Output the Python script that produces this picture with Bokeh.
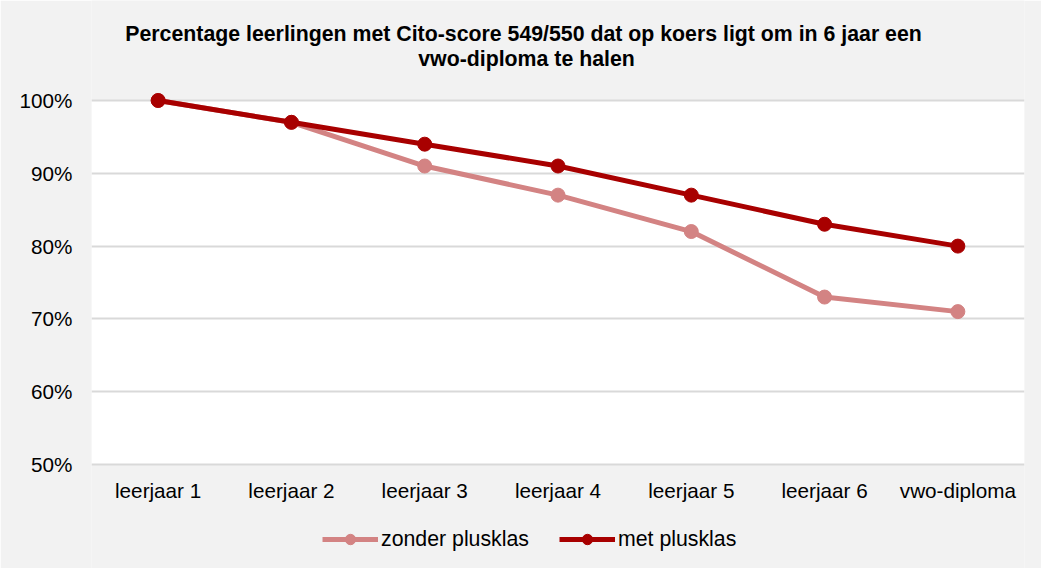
from bokeh.plotting import figure
from bokeh.models import (Label, Legend, LegendItem, BoxAnnotation, Range1d,
                          FactorRange, NumeralTickFormatter, FixedTicker)
from bokeh.core.properties import value
from bokeh.embed import file_html
from bokeh.resources import INLINE

categories = ["leerjaar 1", "leerjaar 2", "leerjaar 3", "leerjaar 4",
              "leerjaar 5", "leerjaar 6", "vwo-diploma"]
zonder_plusklas = [1.00, 0.97, 0.91, 0.87, 0.82, 0.73, 0.71]
met_plusklas = [1.00, 0.97, 0.94, 0.91, 0.87, 0.83, 0.80]
y_ticks = [0.5, 0.6, 0.7, 0.8, 0.9, 1.0]
title_lines = ["Percentage  leerlingen met Cito-score 549/550 dat op koers ligt om in 6 jaar een",
               "vwo-diploma te halen"]

FONT = "Liberation Sans"
BG = "#f2f2f2"
C_LIGHT = "#d38383"
C_DARK = "#a80000"

# frame spans the full height; 728 px per unit on y
p = figure(width=1041, height=568, output_backend="svg", toolbar_location=None,
           x_range=FactorRange(*categories, range_padding=0),
           y_range=Range1d(0.35714, 1.13736),
           min_border_left=91, min_border_right=17, min_border_bottom=0,
           min_border_top=0)
p.background_fill_color = BG
p.border_fill_color = BG
p.outline_line_color = None

# white plot area from 50% to 100%
p.add_layout(BoxAnnotation(bottom=y_ticks[0], top=y_ticks[-1], fill_color="white",
                           fill_alpha=1, line_color=None, level="image"))

# title lines (screen units, relative to the frame)
p.add_layout(Label(x=435, y=535, x_units="screen", y_units="screen", text=title_lines[0],
                   text_align="center", text_baseline="middle",
                   text_font=FONT, text_font_size="21.3px", text_font_style="bold",
                   text_color="#000000"))
p.add_layout(Label(x=435, y=510, x_units="screen", y_units="screen", text=title_lines[1],
                   text_align="center", text_baseline="middle",
                   text_font=FONT, text_font_size="21.3px", text_font_style="bold",
                   text_color="#000000"))

r1 = p.line(categories, zonder_plusklas, color=C_LIGHT, line_width=5)
c1 = p.scatter(categories, zonder_plusklas, size=14, color=C_LIGHT)
r2 = p.line(categories, met_plusklas, color=C_DARK, line_width=5)
c2 = p.scatter(categories, met_plusklas, size=14, color=C_DARK)

# category labels under the 50% line
p.text(x=categories, y=[y_ticks[0]] * len(categories), text=categories,
       text_align="center", text_baseline="middle", y_offset=26,
       text_font=value(FONT), text_font_size="20.7px", text_color="#000000")

# axes
p.xaxis.visible = False
p.yaxis.ticker = FixedTicker(ticks=y_ticks)
p.yaxis.formatter = NumeralTickFormatter(format="0%")
p.yaxis.axis_line_color = None
p.yaxis.major_tick_line_color = None
p.yaxis.minor_tick_line_color = None
p.yaxis.major_label_text_font = FONT
p.yaxis.major_label_text_font_size = "20.7px"
p.yaxis.major_label_text_color = "#000000"
p.yaxis.major_label_standoff = 13

p.xgrid.grid_line_color = None
p.ygrid.grid_line_color = "#d9d9d9"
p.ygrid.grid_line_width = 2

legend = Legend(items=[LegendItem(label="zonder plusklas", renderers=[r1, c1]),
                       LegendItem(label="met plusklas", renderers=[r2, c2])],
                orientation="horizontal", location=(231, 16),
                background_fill_alpha=0, border_line_color=None,
                label_text_font=FONT, label_text_font_size="21.3px",
                label_text_color="#000000",
                glyph_width=56, glyph_height=26, label_standoff=3, spacing=30,
                padding=0, margin=0)
p.add_layout(legend, "center")

open("out.html", "w").write(file_html(p, INLINE))
